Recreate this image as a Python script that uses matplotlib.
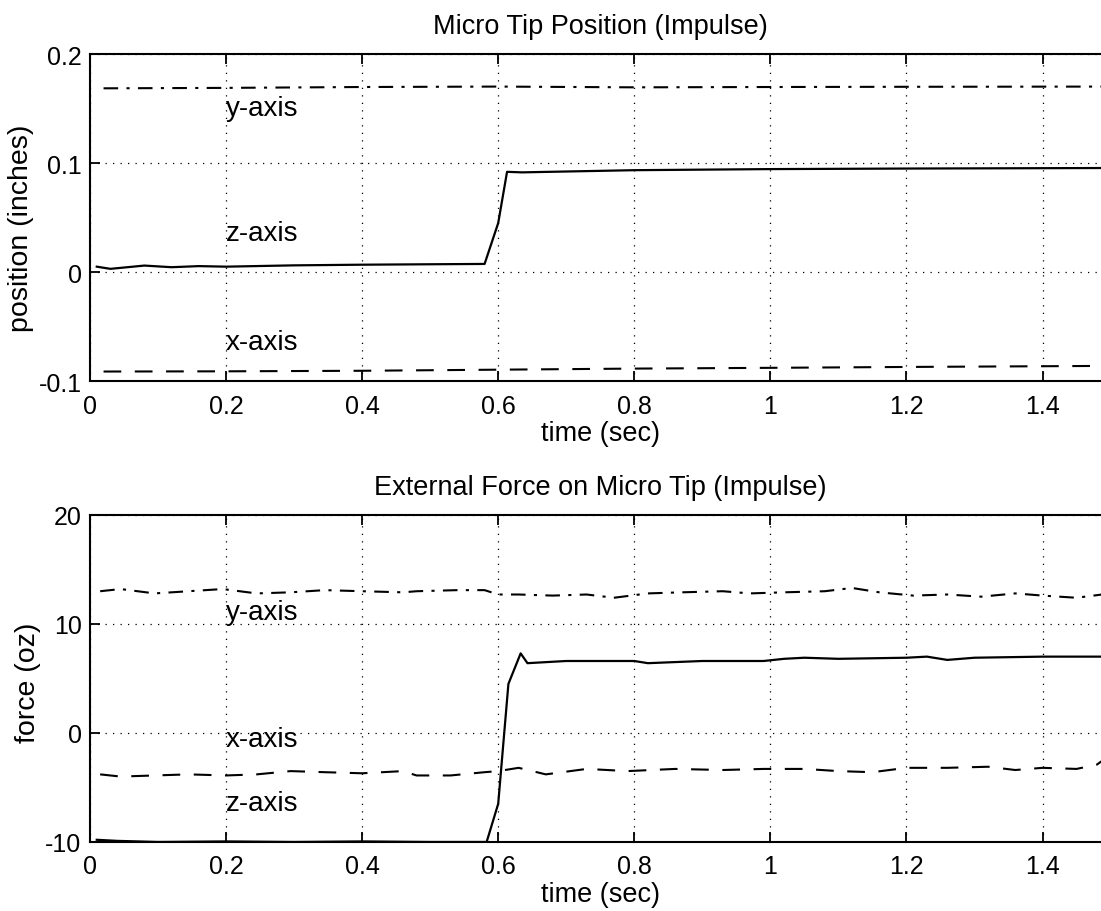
import numpy as np
import matplotlib
matplotlib.use('Agg')
import matplotlib.pyplot as plt

plt.rcParams['font.family'] = ['Liberation Sans', 'DejaVu Sans']

# top plot: micro tip position (inches)
t_pos_z = [0.01, 0.03, 0.08, 0.12, 0.16, 0.2, 0.3, 0.4, 0.5, 0.58, 0.6, 0.613, 0.635, 0.8, 1.0, 1.2, 1.5]
pos_z = [0.005, 0.003, 0.006, 0.0045, 0.0055, 0.005, 0.0062, 0.0068, 0.0072, 0.0075, 0.045, 0.092, 0.0915, 0.0935, 0.0945, 0.095, 0.0955]
t_pos_y = [0.02, 0.2, 0.4, 0.6, 0.8, 1.0, 1.2, 1.5]
pos_y = [0.1686, 0.169, 0.1698, 0.1702, 0.1695, 0.1698, 0.1700, 0.1702]
t_pos_x = [0.02, 0.2, 0.4, 0.6, 0.8, 1.0, 1.2, 1.5]
pos_x = [-0.0912, -0.0910, -0.0905, -0.0895, -0.0885, -0.0878, -0.0870, -0.0860]

# bottom plot: external force (oz)
t_f_y = [0.015, 0.045, 0.095, 0.145, 0.195, 0.245, 0.295, 0.345, 0.4, 0.46, 0.48, 0.54, 0.58, 0.6,
         0.63, 0.68, 0.73, 0.77, 0.82, 0.87, 0.93, 0.97, 1.02, 1.08, 1.12, 1.16, 1.21, 1.26, 1.31,
         1.36, 1.40, 1.45, 1.5]
f_y = [13.0, 13.2, 12.8, 13.0, 13.2, 12.8, 12.9, 13.1, 13.0, 12.9, 13.0, 13.1, 13.1, 12.7,
       12.7, 12.6, 12.7, 12.4, 12.8, 12.9, 13.0, 12.8, 12.9, 13.0, 13.3, 12.9, 12.6, 12.7, 12.5,
       12.8, 12.6, 12.4, 12.8]
t_f_x = [0.015, 0.045, 0.095, 0.145, 0.2, 0.245, 0.295, 0.345, 0.4, 0.46, 0.48, 0.53, 0.58, 0.6,
         0.63, 0.67, 0.73, 0.79, 0.86, 0.93, 0.99, 1.05, 1.1, 1.15, 1.2, 1.26, 1.32, 1.36, 1.40,
         1.45, 1.48, 1.5]
f_x = [-3.8, -4.0, -3.9, -3.8, -3.9, -3.8, -3.5, -3.6, -3.7, -3.5, -3.9, -3.9, -3.6, -3.5,
       -3.2, -3.8, -3.3, -3.5, -3.3, -3.4, -3.3, -3.3, -3.5, -3.6, -3.2, -3.2, -3.1, -3.4, -3.2,
       -3.3, -2.9, -2.0]
t_f_z = [0.01, 0.04, 0.1, 0.2, 0.3, 0.4, 0.5, 0.583, 0.6, 0.615, 0.633, 0.643, 0.7, 0.8, 0.82,
         0.9, 0.99, 1.02, 1.05, 1.1, 1.2, 1.23, 1.26, 1.3, 1.4, 1.5]
f_z = [-9.8, -9.9, -10.0, -9.95, -10.0, -9.95, -10.0, -10.0, -6.5, 4.5, 7.3, 6.4, 6.6, 6.6, 6.4,
       6.6, 6.6, 6.8, 6.9, 6.8, 6.9, 7.0, 6.7, 6.9, 7.0, 7.0]

xticks = [0, 0.2, 0.4, 0.6, 0.8, 1.0, 1.2, 1.4]
xticklabels = ['0', '0.2', '0.4', '0.6', '0.8', '1', '1.2', '1.4']

dashdot = (0, (7, 4, 1.5, 4))
dashed = (0, (8.5, 6.5))

fig = plt.figure(figsize=(11.01, 9.12), dpi=100)
ax1 = fig.add_axes([0.0817, 0.581, 0.927, 0.3586])
ax2 = fig.add_axes([0.0817, 0.0757, 0.927, 0.3586])


def style(ax, yticks, ylabels):
    ax.set_xlim(0, 1.5)
    ax.set_xticks(xticks)
    ax.set_xticklabels(xticklabels)
    ax.set_yticks(yticks)
    ax.set_yticklabels(ylabels)
    ax.set_ylim(yticks[0], yticks[-1])
    ax.tick_params(direction='in', length=7, width=1.3, labelsize=18, top=True, right=True)
    ax.tick_params(axis='x', pad=9)
    ax.tick_params(axis='y', pad=6)
    ax.grid(True, color='black', linestyle=(0, (1, 5)), linewidth=0.9)
    for s in ax.spines.values():
        s.set_linewidth(1.5)


ax1.plot(t_pos_z, pos_z, color='black', linestyle='-', linewidth=1.6)
ax1.plot(t_pos_y, pos_y, color='black', linestyle=dashdot, linewidth=1.5)
ax1.plot(t_pos_x, pos_x, color='black', linestyle=dashed, linewidth=1.5)
style(ax1, [-0.1, 0, 0.1, 0.2], ['-0.1', '0', '0.1', '0.2'])
ax1.text(0.2, 0.151, 'y-axis', fontsize=20, va='center')
ax1.text(0.2, 0.036, 'z-axis', fontsize=20, va='center')
ax1.text(0.2, -0.064, 'x-axis', fontsize=20, va='center')
ax1.set_title('Micro Tip Position (Impulse)', fontsize=19.5, pad=15)
ax1.set_xlabel('time (sec)', fontsize=19.5, labelpad=2)
ax1.set_ylabel('position (inches)', fontsize=20.5, labelpad=3, y=0.47)

ax2.plot(t_f_z, f_z, color='black', linestyle='-', linewidth=1.6)
ax2.plot(t_f_y, f_y, color='black', linestyle=dashdot, linewidth=1.5)
ax2.plot(t_f_x, f_x, color='black', linestyle=dashed, linewidth=1.5)
style(ax2, [-10, 0, 10, 20], ['-10', '0', '10', '20'])
ax2.text(0.2, 11.1, 'y-axis', fontsize=20, va='center')
ax2.text(0.2, -0.6, 'x-axis', fontsize=20, va='center')
ax2.text(0.2, -6.4, 'z-axis', fontsize=20, va='center')
ax2.set_title('External Force on Micro Tip (Impulse)', fontsize=19.5, pad=15)
ax2.set_xlabel('time (sec)', fontsize=19.5, labelpad=2)
ax2.set_ylabel('force (oz)', fontsize=20.5, labelpad=3, y=0.49)

plt.savefig('out.png', dpi=100)
